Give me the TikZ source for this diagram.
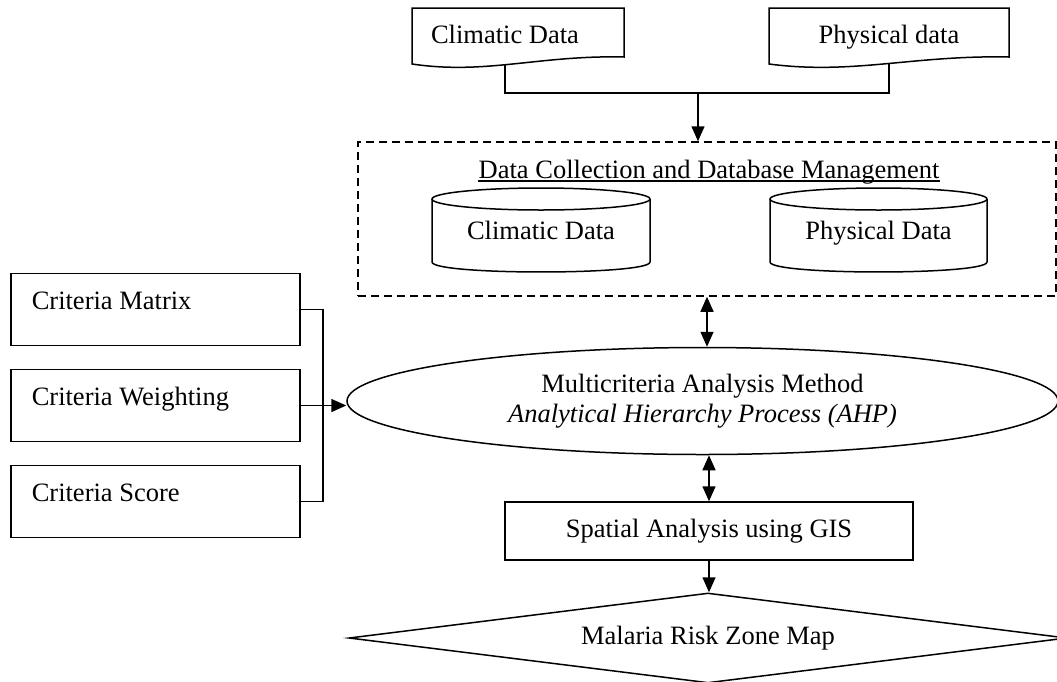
\documentclass[tikz,border=0pt]{standalone}
\usepackage{fontspec}
\setmainfont{Liberation Serif}
\usetikzlibrary{shapes.geometric,arrows.meta}
\begin{document}
\begin{tikzpicture}[x=1pt,y=-1pt,
  font=\fontsize{26.5}{30}\selectfont,
  ln/.style={line width=1.5pt},
  arr/.style={ln,-{Triangle[length=15pt,width=13pt]}},
  darr/.style={ln,{Triangle[length=15pt,width=13pt]}-{Triangle[length=15pt,width=13pt]}},
  critbox/.style={draw,ln,anchor=west,text width=247pt,align=flush left,inner xsep=21pt,inner ysep=0pt,text height=36pt,text depth=36pt},
  plain/.style={inner sep=0pt,anchor=base}
]
\useasboundingbox (0,0) rectangle (1057,681);

% document shapes
\draw[ln] (412,8) -- (624,8) -- (624,57) .. controls (539,55) and (486,75) .. coordinate[pos=0.545] (cdc) (412,64) -- cycle;
\node[plain] (cdt) at (505,43) {Climatic Data};
\draw[ln] (769,8) -- (1009,8) -- (1009,57) .. controls (913,55) and (853,75) .. coordinate[pos=0.48] (pdc) (769,64) -- cycle;
\node[plain] (pdt) at (889,43) {Physical data};

% dashed database box
\node[draw,ln,dash pattern=on 8pt off 5pt,minimum width=698pt,minimum height=154pt,inner sep=0pt] (db) at (707,219) {};
\node[plain] (title) at (709,178) {Data Collection and Database Management};
\draw[line width=1.4pt] ([yshift=-3pt]title.base west) -- ([yshift=-3pt]title.base east);

% junction of top documents
\coordinate (j1) at (698,93);
\draw[ln] (cdc) -- (cdc |- j1) -- (pdc |- j1) -- (pdc);
\draw[arr] (j1) -- (j1 |- db.north);

% cylinders
\draw[ln] (432,199) -- (432,262) .. controls (432,275.3) and (650,275.3) .. (650,262) -- (650,199);
\draw[ln] (541,199) ellipse (109 and 11);
\node[plain] (cyc) at (541,239) {Climatic Data};
\draw[ln] (770,199) -- (770,262) .. controls (770,275.3) and (987,275.3) .. (987,262) -- (987,199);
\draw[ln] (878.5,199) ellipse (108.5 and 11);
\node[plain] (cyp) at (878.5,239) {Physical Data};

% AHP ellipse
\node[ellipse,draw,ln,minimum width=711pt,minimum height=107pt,inner sep=0pt,align=center] (ell) at (702.5,401)
  {Multicriteria Analysis Method\\\textit{Analytical Hierarchy Process (AHP)}};
\draw[darr] (db.south) -- (db.south |- ell.north);

% criteria boxes
\node[critbox] (cm) at (10,309.5) {Criteria Matrix};
\node[critbox] (cw) at (10,405.5) {Criteria Weighting};
\node[critbox] (cs) at (10,501.5) {Criteria Score};
\coordinate (cj) at (323,405.5);
\draw[ln] (cm.east) -| (cj) |- (cs.east);
\draw[arr] (cw.east) -- (cw.east -| ell.west);

% spatial analysis
\node[draw,ln,minimum width=408pt,minimum height=58pt,inner sep=0pt] (sp) at (709,531) {Spatial Analysis using GIS};
\draw[darr] (sp.north |- ell.south) -- (sp.north);

% result diamond
\node[diamond,draw,ln,aspect=8,minimum width=718pt,minimum height=90pt,inner sep=0pt] (dia) at (708,638) {Malaria Risk Zone Map};
\draw[arr] (sp.south) -- (sp.south |- dia.north);
\end{tikzpicture}
\end{document}
